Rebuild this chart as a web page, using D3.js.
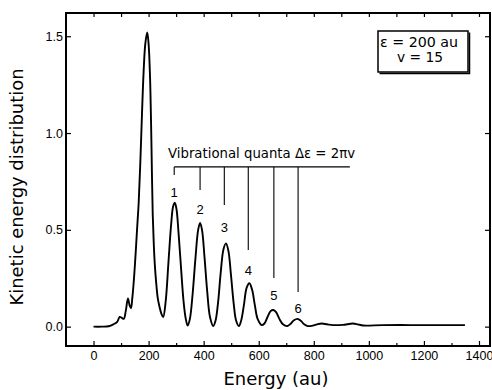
<!DOCTYPE html>
<html>
<head>
<meta charset="utf-8">
<script src="https://cdn.jsdelivr.net/npm/d3@7/dist/d3.min.js"></script>
<style>
  body { margin: 0; background: #fff; }
  svg { display: block; }
</style>
</head>
<body>
<div id="chart"></div>
<script>
// energy (au) and kinetic energy distribution
var energy = [0, 30, 55, 72, 86, 95, 103, 110, 117, 125, 131, 136, 141, 147, 153, 158, 164, 170, 176, 182, 188, 195,
  200, 205, 209, 212, 215, 219, 223, 228, 233, 240, 247, 253,
  262, 272, 282, 289, 295, 301, 309, 318, 327, 335, 342,
  350, 360, 370, 380, 387, 394, 403, 413, 423, 435,
  443, 452, 462, 472, 481, 490, 499, 509, 518, 528,
  536, 546, 556, 566, 576, 586, 596, 611,
  620, 632, 643, 653, 663, 675, 688, 704,
  716, 728, 741, 753, 765, 778,
  792, 812, 829, 848, 870, 905, 942, 960, 979, 1050, 1150, 1250, 1349];
var dist = [0, 0, 0.002, 0.012, 0.025, 0.05, 0.045, 0.04, 0.08, 0.145, 0.11, 0.095, 0.15, 0.25, 0.38, 0.50, 0.64, 0.85, 1.10, 1.32, 1.46, 1.52,
  1.46, 1.30, 1.05, 0.80, 0.58, 0.42, 0.31, 0.22, 0.15, 0.10, 0.065, 0.05,
  0.13, 0.33, 0.53, 0.62, 0.64, 0.61, 0.48, 0.30, 0.13, 0.04, 0.005,
  0.04, 0.17, 0.35, 0.50, 0.535, 0.50, 0.36, 0.18, 0.05, 0.003,
  0.03, 0.12, 0.28, 0.40, 0.43, 0.39, 0.27, 0.12, 0.03, 0.003,
  0.03, 0.11, 0.20, 0.224, 0.19, 0.11, 0.04, 0.008,
  0.015, 0.05, 0.08, 0.086, 0.075, 0.04, 0.012, 0.003,
  0.015, 0.033, 0.04, 0.03, 0.012, 0.003,
  0.004, 0.012, 0.016, 0.012, 0.008, 0.009, 0.016, 0.012, 0.006, 0.008, 0.008, 0.008, 0.008];

// vibrational quanta markers
var quantaLabels = ["1", "2", "3", "4", "5", "6"];
var quantaEnergy = [293, 387, 475, 562, 655, 743];
var quantaLineEnd = [0.783, 0.706, 0.628, 0.396, 0.251, 0.179];
var quantaLabelY = [0.67, 0.58, 0.49, 0.267, 0.138, 0.07];
var quantaBarY = 0.825, quantaBarEnd = 931;

var xTicks = [0, 200, 400, 600, 800, 1000, 1200, 1400];
var xMinor = [100, 300, 500, 700, 900, 1100, 1300];
var yTicks = [0, 0.5, 1.0, 1.5];

var width = 492, height = 390;
var svg = d3.select("#chart").append("svg").attr("width", width).attr("height", height);
svg.append("rect").attr("width", width).attr("height", height).attr("fill", "#fff");

var x = d3.scaleLinear().domain([-100, 1440]).range([66, 490]);
var y = d3.scaleLinear().domain([-0.1, 1.62]).range([346, 13]);

var font = "'Liberation Sans', Arial, sans-serif";

// axes, ticks pointing inward
function styleAxis(g) {
  g.select(".domain").remove();
  g.selectAll("line").attr("stroke", "#000").attr("stroke-width", 1.2);
  g.selectAll("text").attr("font-family", font).attr("font-size", 12.5).attr("fill", "#000");
}
svg.append("g").attr("transform", "translate(0,346)")
  .call(d3.axisBottom(x).tickValues(xTicks).tickSize(-5).tickPadding(5).tickFormat(d3.format("d")))
  .call(styleAxis);
svg.append("g").attr("transform", "translate(0,346)")
  .call(d3.axisBottom(x).tickValues(xMinor).tickSize(-3).tickFormat(""))
  .call(styleAxis);
svg.append("g").attr("transform", "translate(0,13)")
  .call(d3.axisTop(x).tickValues(xTicks.concat(xMinor)).tickSize(-4).tickFormat(""))
  .call(styleAxis);
svg.append("g").attr("transform", "translate(66,0)")
  .call(d3.axisLeft(y).tickValues(yTicks).tickSize(-5).tickPadding(3).tickFormat(d3.format(".1f")))
  .call(styleAxis);
svg.append("g").attr("transform", "translate(490,0)")
  .call(d3.axisRight(y).tickValues(yTicks).tickSize(-5).tickFormat(""))
  .call(styleAxis);

// frame
svg.append("rect").attr("x", 66).attr("y", 13).attr("width", 424).attr("height", 333)
  .attr("fill", "none").attr("stroke", "#000").attr("stroke-width", 2);

// curve
var pts = energy.map(function (e, i) { return [e, dist[i]]; });
var line = d3.line()
  .x(function (d) { return x(d[0]); })
  .y(function (d) { return y(d[1]); })
  .curve(d3.curveCatmullRom.alpha(0.5));
svg.append("path").datum(pts).attr("d", line)
  .attr("fill", "none").attr("stroke", "#000").attr("stroke-width", 1.9).attr("stroke-linejoin", "round");

// vibrational quanta annotation
svg.append("line")
  .attr("x1", x(quantaEnergy[0])).attr("x2", x(quantaBarEnd))
  .attr("y1", y(quantaBarY)).attr("y2", y(quantaBarY))
  .attr("stroke", "#000").attr("stroke-width", 1.4);
svg.append("g").selectAll("line").data(quantaEnergy).join("line")
  .attr("x1", function (d) { return x(d); }).attr("x2", function (d) { return x(d); })
  .attr("y1", y(quantaBarY)).attr("y2", function (d, i) { return y(quantaLineEnd[i]); })
  .attr("stroke", "#000").attr("stroke-width", 1.1);
svg.append("g").selectAll("text").data(quantaLabels).join("text")
  .attr("x", function (d, i) { return x(quantaEnergy[i]); })
  .attr("y", function (d, i) { return y(quantaLabelY[i]); })
  .attr("text-anchor", "middle").attr("font-family", font).attr("font-size", 13).attr("fill", "#000")
  .text(function (d) { return d; });
svg.append("text").attr("x", 168).attr("y", 158)
  .attr("font-family", "'DejaVu Sans', sans-serif").attr("font-size", 14.5)
  .attr("textLength", 187).attr("lengthAdjust", "spacingAndGlyphs")
  .text("Vibrational quanta Δε = 2πv");

// legend box
svg.append("path").attr("d", "M469.5,32.5 V73.5 H379.5")
  .attr("fill", "none").attr("stroke", "#000").attr("stroke-width", 1.5);
svg.append("rect").attr("x", 378).attr("y", 31).attr("width", 90).attr("height", 41)
  .attr("fill", "#fff").attr("stroke", "#000").attr("stroke-width", 1.5);
svg.append("text").attr("x", 419).attr("y", 47).attr("text-anchor", "middle")
  .attr("font-family", "'DejaVu Sans', sans-serif").attr("font-size", 14)
  .attr("textLength", 78).attr("lengthAdjust", "spacingAndGlyphs")
  .text("ε = 200 au");
svg.append("text").attr("x", 420).attr("y", 62).attr("text-anchor", "middle")
  .attr("font-family", "'DejaVu Sans', sans-serif").attr("font-size", 14)
  .attr("textLength", 46).attr("lengthAdjust", "spacingAndGlyphs")
  .text("v = 15");

// axis titles
svg.append("text").attr("x", 276).attr("y", 385).attr("text-anchor", "middle")
  .attr("font-family", "'DejaVu Sans', sans-serif").attr("font-size", 17)
  .attr("textLength", 105).attr("lengthAdjust", "spacingAndGlyphs")
  .text("Energy (au)");
svg.append("text").attr("transform", "translate(23,187) rotate(-90)").attr("text-anchor", "middle")
  .attr("font-family", "'DejaVu Sans', sans-serif").attr("font-size", 17)
  .attr("textLength", 237).attr("lengthAdjust", "spacingAndGlyphs")
  .text("Kinetic energy distribution");
</script>
</body>
</html>
